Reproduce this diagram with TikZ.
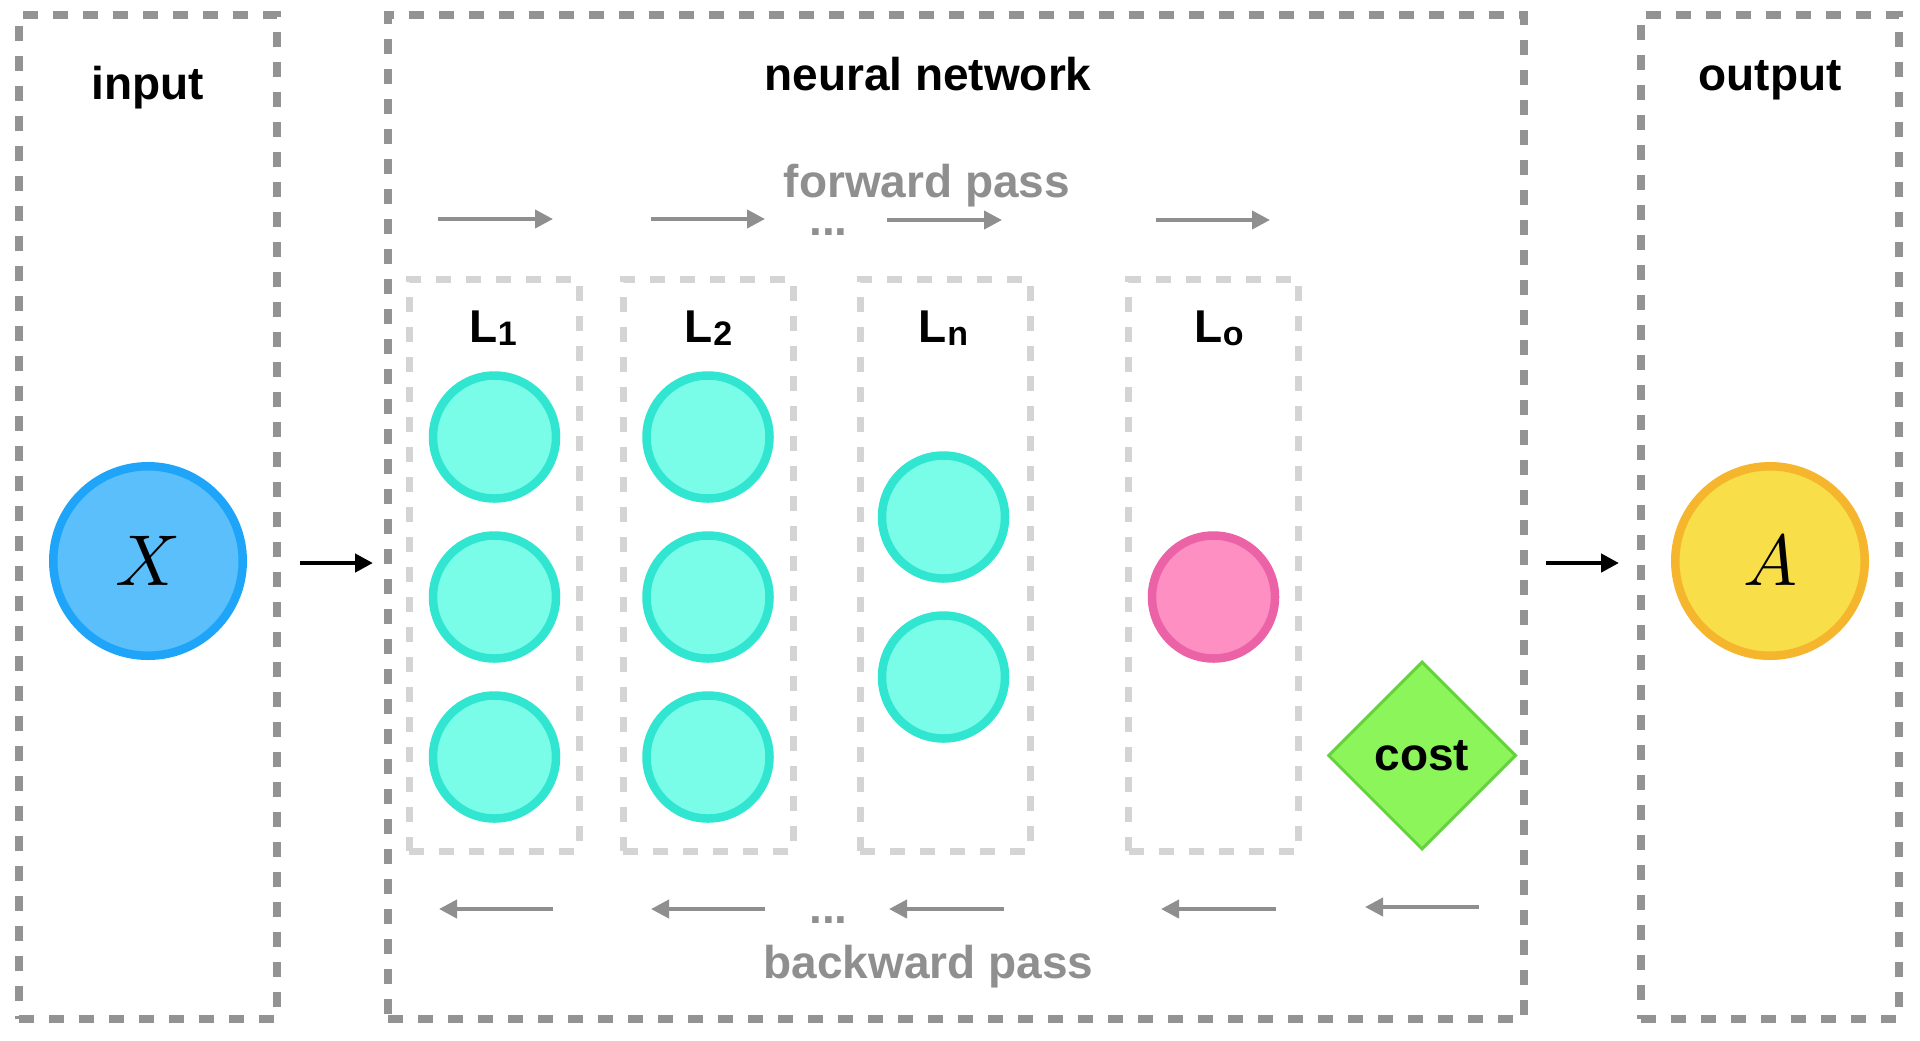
\documentclass[tikz,border=0pt]{standalone}
\usepackage{graphicx}
\usepackage{fontspec}
\setmainfont{Liberation Sans}
\usetikzlibrary{arrows.meta,shapes.geometric}
\definecolor{boxgray}{HTML}{939393}
\definecolor{lightbox}{HTML}{D4D4D4}
\definecolor{txtgray}{HTML}{8F8F8F}
\definecolor{xfill}{HTML}{5BBFFB}
\definecolor{xline}{HTML}{1EA5FA}
\definecolor{afill}{HTML}{F8DE48}
\definecolor{aline}{HTML}{F5B52C}
\definecolor{tfill}{HTML}{7AFDE8}
\definecolor{tline}{HTML}{30E6D0}
\definecolor{pfill}{HTML}{FD8FC3}
\definecolor{pline}{HTML}{EC62A6}
\definecolor{gfill}{HTML}{8CF55A}
\definecolor{gline}{HTML}{66D13F}
\newcommand\layerlabel[1]{L\kern0.3pt\raisebox{-1.5pt}{\fontsize{17}{17}\selectfont #1}}
\newcommand\bigsym[1]{\scalebox{3.6}{$#1$}}
\begin{document}
\begin{tikzpicture}[x=0.5pt,y=-0.5pt,
  outerbox/.style={draw=boxgray,line width=4pt,dash pattern=on 7.5pt off 7.5pt,inner sep=0pt,minimum height=502pt},
  layerbox/.style={draw=lightbox,line width=3.5pt,dash pattern=on 7.5pt off 7.5pt,inner sep=0pt,minimum width=85pt,minimum height=286pt},
  title/.style={font=\fontsize{23}{23}\selectfont\bfseries,inner sep=0pt,anchor=base},
  passtext/.style={title,text=txtgray},
  dotstext/.style={passtext,text height=5pt,text depth=0pt},
  neuron/.style={circle,draw=tline,fill=tfill,line width=4.25pt,minimum size=61.5pt,inner sep=0pt},
  outneuron/.style={circle,draw=pline,fill=pfill,line width=4.25pt,minimum size=61.5pt,inner sep=0pt},
  bigcircle/.style={circle,line width=4.25pt,minimum size=94.75pt,inner sep=0pt},
  fwd/.style={draw=txtgray,line width=2pt,-{Triangle[length=9pt,width=9pt]}},
  link/.style={draw=black,line width=2.3pt,-{Triangle[length=9pt,width=9pt]}}
]
\useasboundingbox (0,0) rectangle (1920,1040);
\fill[white] (0,0) rectangle (1920,1040);

% outer boxes
\node[outerbox,minimum width=128.75pt] (inbox) at (147.75,517) {};
\node[outerbox,minimum width=568pt] (nnbox) at (956,517) {};
\node[outerbox,minimum width=129pt] (outbox) at (1770,517) {};

% titles
\node[title] (tin) at (148,99) {input};
\node[title] (tnn) at (928,90) {neural network};
\node[title] (tout) at (1770,90) {output};
\node[passtext] (tfwd) at (927,197) {forward pass};
\node[passtext] (tbwd) at (928.5,978) {backward pass};
\node[dotstext] (dotsf) at (828.5,235) {...};
\node[dotstext] (dotsb) at (828.5,923) {...};

% layer boxes
\node[layerbox] (b1) at (494,565) {};
\node[layerbox] (b2) at (708,565) {};
\node[layerbox] (bn) at (945,565) {};
\node[layerbox] (bo) at (1213.5,565) {};

% layer labels
\node[title] (l1) at (493,342) {\layerlabel{1}};
\node[title] (l2) at (708.5,342) {\layerlabel{2}};
\node[title] (ln) at (943.5,342) {\layerlabel{n}};
\node[title] (lo) at (1219,342) {\layerlabel{o}};

% neurons
\node[neuron] (n11) at (494.5,437) {};
\node[neuron] (n12) at (494.5,597) {};
\node[neuron] (n13) at (494.5,757) {};
\node[neuron] (n21) at (708,437) {};
\node[neuron] (n22) at (708,597) {};
\node[neuron] (n23) at (708,757) {};
\node[neuron] (nn1) at (943.5,517) {};
\node[neuron] (nn2) at (943.5,677) {};
\node[outneuron] (no) at (1213.5,597) {};

% input / output
\node[bigcircle,draw=xline,fill=xfill] (X) at (148,561) {\bigsym{X}};
\node[bigcircle,draw=aline,fill=afill] (A) at (1770,561) {\bigsym{A}};

% cost
\node[diamond,aspect=1,draw=gline,fill=gfill,line width=1.5pt,minimum width=94pt,minimum height=94pt,inner sep=0pt,font=\fontsize{23}{23}\selectfont\bfseries] (cost) at (1422,755.5) {cost};

% arrow end points
\coordinate (ia) at (300,563); \coordinate (ib) at (373,563);
\coordinate (oa) at (1546,563); \coordinate (ob) at (1619,563);
\coordinate (f1a) at (438,219); \coordinate (f1b) at (553,219);
\coordinate (f2a) at (651,219); \coordinate (f2b) at (765,219);
\coordinate (f3a) at (887,220); \coordinate (f3b) at (1002,220);
\coordinate (f4a) at (1156,220); \coordinate (f4b) at (1270,220);
\coordinate (k1a) at (553,909); \coordinate (k1b) at (439,909);
\coordinate (k2a) at (765,909); \coordinate (k2b) at (651,909);
\coordinate (k3a) at (1004,909); \coordinate (k3b) at (889,909);
\coordinate (k4a) at (1276,909); \coordinate (k4b) at (1161,909);
\coordinate (k5a) at (1479,907); \coordinate (k5b) at (1365,907);

\draw[link] (ia) -- (ib);
\draw[link] (oa) -- (ob);
\draw[fwd] (f1a) -- (f1b);
\draw[fwd] (f2a) -- (f2b);
\draw[fwd] (f3a) -- (f3b);
\draw[fwd] (f4a) -- (f4b);
\draw[fwd] (k1a) -- (k1b);
\draw[fwd] (k2a) -- (k2b);
\draw[fwd] (k3a) -- (k3b);
\draw[fwd] (k4a) -- (k4b);
\draw[fwd] (k5a) -- (k5b);
\end{tikzpicture}
\end{document}
